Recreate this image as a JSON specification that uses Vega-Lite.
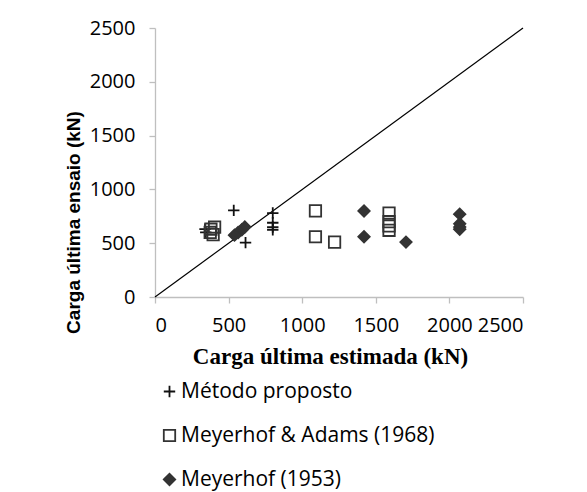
{
  "$schema": "https://vega.github.io/schema/vega-lite/v6.json",
  "width": 368,
  "height": 269,
  "autosize": {"type": "none"},
  "padding": {"left": 155, "top": 28, "right": 64, "bottom": 195},
  "background": "white",
  "config": {
    "view": {"stroke": null},
    "font": "Open Sans",
    "axis": {
      "grid": false,
      "domainColor": "#bfbfbf",
      "tickColor": "#bfbfbf",
      "domainWidth": 1.3,
      "tickWidth": 1.3,
      "tickSize": 6,
      "labelColor": "#000000",
      "labelFont": "Open Sans",
      "labelFontSize": 20,
      "labelOverlap": false,
      "format": "d",
      "titleColor": "#000000"
    },
    "legend": {
      "title": null,
      "orient": "none",
      "legendX": 4,
      "legendY": 353,
      "direction": "vertical",
      "padding": 0,
      "rowPadding": 22,
      "labelFont": "Open Sans",
      "labelFontSize": 21,
      "labelColor": "#000000",
      "labelOffset": 1,
      "labelLimit": 400,
      "symbolSize": 130,
      "symbolStrokeWidth": 1.8
    }
  },
  "datasets": {
    "diag": [
      {"estimada": 0, "ensaio": 0},
      {"estimada": 2500, "ensaio": 2500}
    ],
    "pts": [
      {"serie": "Método proposto", "estimada": 340, "ensaio": 630},
      {"serie": "Método proposto", "estimada": 345, "ensaio": 600},
      {"serie": "Método proposto", "estimada": 535, "ensaio": 805},
      {"serie": "Método proposto", "estimada": 545, "ensaio": 580},
      {"serie": "Método proposto", "estimada": 615, "ensaio": 505},
      {"serie": "Método proposto", "estimada": 800, "ensaio": 780},
      {"serie": "Método proposto", "estimada": 800, "ensaio": 690},
      {"serie": "Método proposto", "estimada": 800, "ensaio": 650},
      {"serie": "Método proposto", "estimada": 800, "ensaio": 625},
      {"serie": "Meyerhof & Adams (1968)", "estimada": 375, "ensaio": 600},
      {"serie": "Meyerhof & Adams (1968)", "estimada": 380, "ensaio": 630},
      {"serie": "Meyerhof & Adams (1968)", "estimada": 395, "ensaio": 580},
      {"serie": "Meyerhof & Adams (1968)", "estimada": 405, "ensaio": 650},
      {"serie": "Meyerhof & Adams (1968)", "estimada": 1090, "ensaio": 800},
      {"serie": "Meyerhof & Adams (1968)", "estimada": 1090, "ensaio": 560},
      {"serie": "Meyerhof & Adams (1968)", "estimada": 1220, "ensaio": 510},
      {"serie": "Meyerhof & Adams (1968)", "estimada": 1590, "ensaio": 780},
      {"serie": "Meyerhof & Adams (1968)", "estimada": 1590, "ensaio": 700},
      {"serie": "Meyerhof & Adams (1968)", "estimada": 1590, "ensaio": 660},
      {"serie": "Meyerhof & Adams (1968)", "estimada": 1590, "ensaio": 620},
      {"serie": "Meyerhof (1953)", "estimada": 540, "ensaio": 575},
      {"serie": "Meyerhof (1953)", "estimada": 565, "ensaio": 600},
      {"serie": "Meyerhof (1953)", "estimada": 590, "ensaio": 625},
      {"serie": "Meyerhof (1953)", "estimada": 610, "ensaio": 650},
      {"serie": "Meyerhof (1953)", "estimada": 1420, "ensaio": 800},
      {"serie": "Meyerhof (1953)", "estimada": 1420, "ensaio": 560},
      {"serie": "Meyerhof (1953)", "estimada": 1705, "ensaio": 510},
      {"serie": "Meyerhof (1953)", "estimada": 2070, "ensaio": 770},
      {"serie": "Meyerhof (1953)", "estimada": 2070, "ensaio": 680},
      {"serie": "Meyerhof (1953)", "estimada": 2070, "ensaio": 650},
      {"serie": "Meyerhof (1953)", "estimada": 2070, "ensaio": 630}
    ]
  },
  "layer": [
    {
      "data": {"name": "diag"},
      "mark": {"type": "line", "color": "#000000", "strokeWidth": 1.2},
      "encoding": {
        "x": {
          "field": "estimada",
          "type": "quantitative",
          "scale": {"domain": [0, 2500], "nice": false},
          "axis": {
            "values": [0, 500, 1000, 1500, 2000, 2500],
            "labelPadding": 12,
            "title": "Carga última estimada (kN)",
            "titleFont": "Liberation Serif",
            "titleFontWeight": "bold",
            "titleFontSize": 23,
            "titleX": 175,
            "titleY": 59,
            "titleBaseline": "middle"
          }
        },
        "y": {
          "field": "ensaio",
          "type": "quantitative",
          "scale": {"domain": [0, 2500], "nice": false},
          "axis": {
            "values": [0, 500, 1000, 1500, 2000, 2500],
            "labelPadding": 14,
            "title": "Carga última ensaio (kN)",
            "titleFont": "Liberation Sans",
            "titleFontWeight": "bold",
            "titleFontSize": 19,
            "titleX": -82,
            "titleY": 194,
            "titleAlign": "center",
            "titleBaseline": "middle",
            "titleAngle": -90
          }
        }
      }
    },
    {
      "data": {"name": "pts"},
      "mark": {"type": "point", "size": 130, "strokeWidth": 1.8, "opacity": 1},
      "encoding": {
        "x": {"field": "estimada", "type": "quantitative"},
        "y": {"field": "ensaio", "type": "quantitative"},
        "shape": {
          "field": "serie",
          "type": "nominal",
          "scale": {
            "domain": ["Método proposto", "Meyerhof & Adams (1968)", "Meyerhof (1953)"],
            "range": ["M-1,0H1M0,-1V1", "square", "diamond"]
          }
        },
        "fill": {
          "field": "serie",
          "type": "nominal",
          "scale": {
            "domain": ["Método proposto", "Meyerhof & Adams (1968)", "Meyerhof (1953)"],
            "range": ["transparent", "transparent", "#333333"]
          }
        },
        "stroke": {
          "field": "serie",
          "type": "nominal",
          "scale": {
            "domain": ["Método proposto", "Meyerhof & Adams (1968)", "Meyerhof (1953)"],
            "range": ["#111111", "#333333", "#333333"]
          }
        }
      }
    }
  ]
}
